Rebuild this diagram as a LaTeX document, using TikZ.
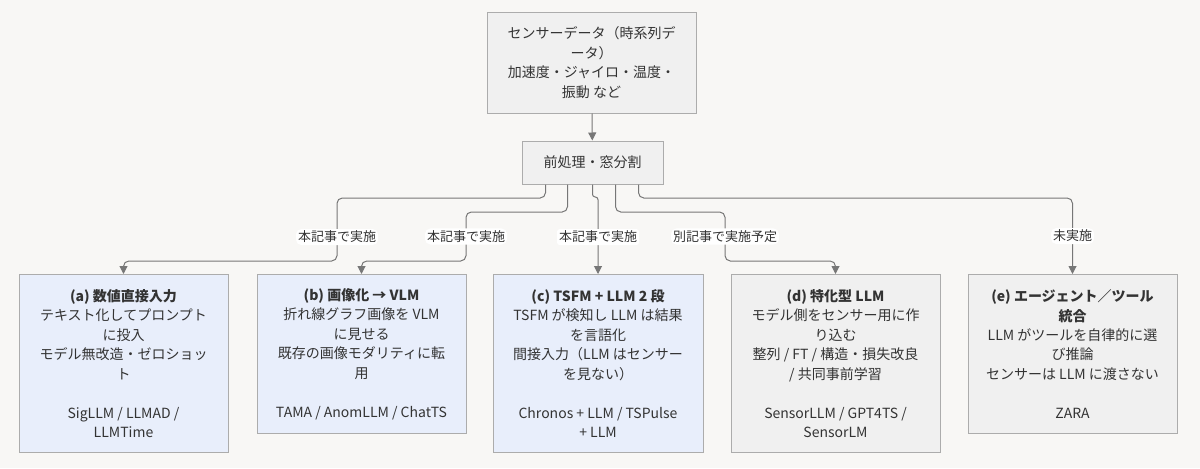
\documentclass[tikz,border=0pt]{standalone}
\usepackage{fontspec}
\setmainfont{Noto Sans CJK JP}
\usetikzlibrary{arrows.meta,positioning,calc}

\definecolor{bgpaper}{HTML}{F8F7F5}
\definecolor{boxgray}{HTML}{F0F0F0}
\definecolor{boxblue}{HTML}{E8EEFB}
\definecolor{boxline}{HTML}{ACACAC}
\definecolor{linkgray}{HTML}{777777}
\definecolor{inkdark}{HTML}{333333}

\begin{document}
\begin{tikzpicture}[
        x=0.75pt, y=-0.75pt,
        box/.style={rectangle, draw=boxline, fill=boxgray, line width=0.75pt, align=center, inner sep=0pt, text=inkdark, font=\fontsize{10.5}{14.6}\selectfont},
        done/.style={box, fill=boxblue, minimum width=156.75pt, anchor=north},
        todo/.style={box, minimum width=156.75pt, anchor=north},
        link/.style={-{Triangle[length=6pt,width=6pt]}, draw=linkgray, line width=0.75pt, rounded corners=4pt},
        lbl/.style={fill=white, inner sep=1.5pt, text=inkdark, font=\fontsize{9.75}{12}\selectfont}
    ]
        % Canvas
        \fill[bgpaper] (0,0) rectangle (1200,468);
        \useasboundingbox (0,0) rectangle (1200,468);

        % Input and preprocessing
        \node[box, minimum width=156.75pt, minimum height=75.75pt] (src) at (591.5,62.5)
            {センサーデータ（時系列デ\\ータ）\\加速度・ジャイロ・温度・\\振動 など};
        \node[box, minimum width=105.75pt, minimum height=32.25pt] (pre) at (592.5,162.5) {前処理・窓分割};

        % Approaches
        \node[done, minimum height=133.5pt] (a) at (123.5,274)
            {\textbf{(a) 数値直接入力}\\テキスト化してプロンプト\\に投入\\モデル無改造・ゼロショッ\\ト\\[14.6pt]SigLLM / LLMAD /\\LLMTime};
        \node[done, minimum height=119.25pt] (b) at (361.5,274)
            {\textbf{(b) 画像化 → VLM}\\折れ線グラフ画像を VLM\\に見せる\\既存の画像モダリティに転\\用\\[14.6pt]TAMA / AnomLLM / ChatTS};
        \node[done, minimum height=133.5pt, minimum width=157.5pt] (c) at (598,274)
            {\textbf{(c) TSFM + LLM 2 段}\\TSFM が検知し LLM は結果\\を言語化\\間接入力（LLM はセンサー\\を見ない）\\[14.6pt]Chronos + LLM / TSPulse\\+ LLM};
        \node[todo, minimum height=133.5pt] (d) at (835.5,274)
            {\textbf{(d) 特化型 LLM}\\モデル側をセンサー用に作\\り込む\\整列 / FT / 構造・損失改良\\/ 共同事前学習\\[14.6pt]SensorLLM / GPT4TS /\\SensorLM};
        \node[todo, minimum height=119.25pt] (e) at (1072.5,274)
            {\textbf{(e) エージェント／ツール}\\\textbf{統合}\\LLM がツールを自律的に選\\び推論\\センサーは LLM に渡さない\\[14.6pt]ZARA};

        % Flow
        \draw[link] (src) -- (pre);
        \draw[link] ($(pre.south)+(-47,0)$) |- (337,198) -- node[lbl, pos=0.62] {本記事で実施} (337,261) -| (a.north);
        \draw[link] ($(pre.south)+(-25,0)$) |- (466,212) -- node[lbl] {本記事で実施} (466,261) -| (b.north);
        \draw[link, rounded corners=2pt] (pre.south) |- ($(c.north)+(0,-77)$) -- node[lbl, pos=0.52] {本記事で実施} (c.north);
        \draw[link] ($(pre.south)+(23,0)$) |- (725,212) -- node[lbl] {別記事で実施予定} (725,261) -| (d.north);
        \draw[link] ($(pre.south)+(46,0)$) |- ($(e.north)+(0,-76)$) -- node[lbl] {未実施} (e.north);
    \end{tikzpicture}
\end{document}
